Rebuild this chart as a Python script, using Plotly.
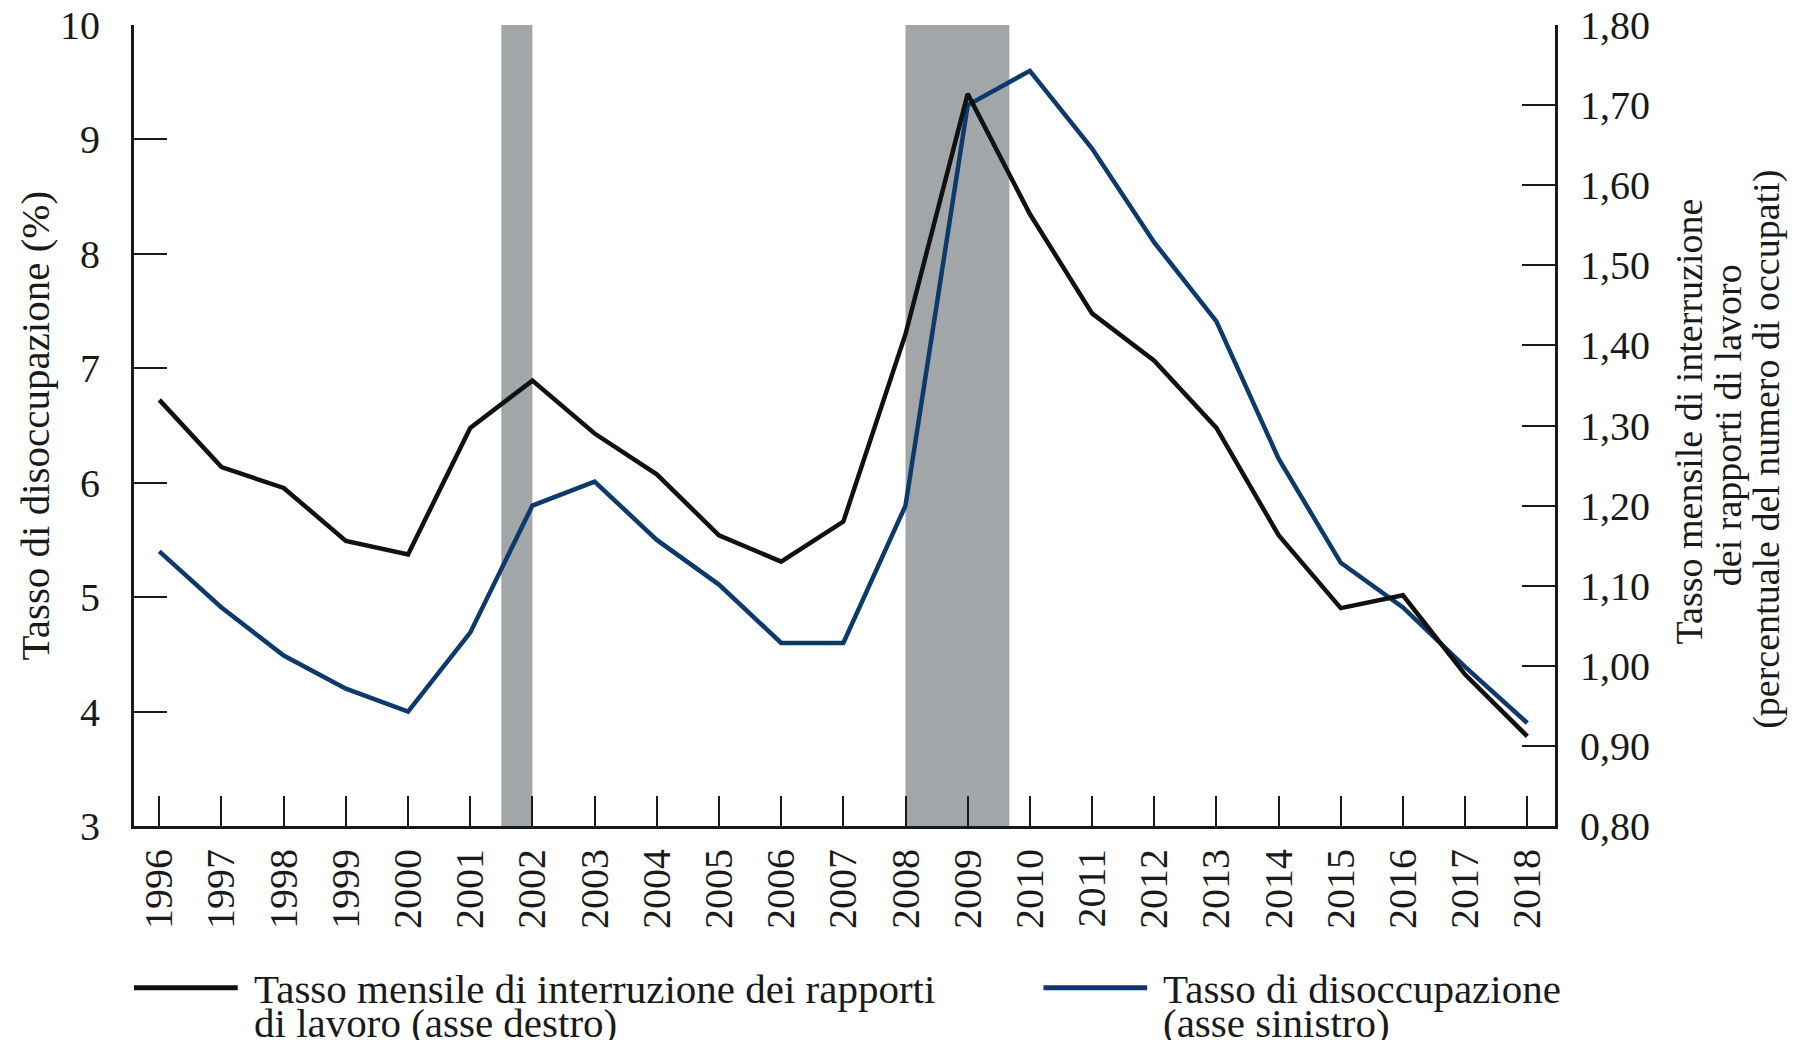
import plotly.graph_objects as go

years = list(range(1996, 2019))
unemployment = [5.40, 4.91, 4.49, 4.20, 4.00, 4.69, 5.80, 6.01, 5.50, 5.11, 4.60, 4.60,
                5.80, 9.30, 9.60, 8.92, 8.10, 7.41, 6.21, 5.30, 4.91, 4.39, 3.90]
separation_rate = [1.332, 1.248, 1.222, 1.156, 1.139, 1.297, 1.356, 1.290, 1.239, 1.163,
                   1.130, 1.180, 1.414, 1.714, 1.564, 1.440, 1.381, 1.297, 1.163, 1.072,
                   1.088, 0.989, 0.912]
recession_starts = [2001.5, 2008.0]
recession_ends = [2002.0, 2009.67]

left_ticks = [3, 4, 5, 6, 7, 8, 9, 10]
right_ticks = [0.8, 0.9, 1.0, 1.1, 1.2, 1.3, 1.4, 1.5, 1.6, 1.7, 1.8]

name_sep = "Tasso mensile di interruzione dei rapporti di lavoro (asse destro)"
name_un = "Tasso di disoccupazione (asse sinistro)"

FONT = "Liberation Serif"
TXT = "#1a1a1a"
BLACK = "#111111"
BLUE = "#0c3a6c"
GREY = "#a3a6a9"
FS_TICK = 40
FS_LEG = 41
FS_LTITLE = 41
FS_RTITLE = 38

fig = go.Figure()
fig.add_trace(go.Scatter(x=years, y=unemployment, mode="lines", name=name_un,
                         line=dict(color=BLUE, width=4.5), yaxis="y"))
fig.add_trace(go.Scatter(x=years, y=separation_rate, mode="lines", name=name_sep,
                         line=dict(color=BLACK, width=4.5), yaxis="y2"))

for s, e in zip(recession_starts, recession_ends):
    fig.add_vrect(x0=s, x1=e, fillcolor=GREY, opacity=1, line_width=0, layer="below")

# manual legend
legend_items = [
    (0.0, BLACK, ["Tasso mensile di interruzione dei rapporti", "di lavoro (asse destro)"]),
    (0.640, BLUE, ["Tasso di disoccupazione", "(asse sinistro)"]),
]
for x0, col, lines in legend_items:
    fig.add_shape(type="line", xref="paper", yref="paper", x0=x0, x1=x0 + 0.073,
                  y0=-0.202, y1=-0.202, line=dict(color=col, width=5))
    for i, t in enumerate(lines):
        fig.add_annotation(text=t, xref="paper", yref="paper", x=x0 + 0.0830,
                           y=-0.203 - 0.0425 * i, xanchor="left", yanchor="middle",
                           showarrow=False, font=dict(family=FONT, size=FS_LEG, color=TXT))

# axis titles
fig.add_annotation(text="Tasso di disoccupazione (%)", xref="paper", yref="paper",
                   x=-0.0697, y=0.5, textangle=-90, xanchor="center", yanchor="middle",
                   showarrow=False, font=dict(family=FONT, size=FS_LTITLE, color=TXT))
right_title = ["Tasso mensile di interruzione", "dei rapporti di lavoro",
               "(percentuale del numero di occupati)"]
right_title_y = [0.505, 0.50, 0.47]
for i, (t, yy) in enumerate(zip(right_title, right_title_y)):
    fig.add_annotation(text=t, xref="paper", yref="paper", x=1.0943 + 0.0272 * i, y=yy,
                       textangle=-90, xanchor="center", yanchor="middle", showarrow=False,
                       font=dict(family=FONT, size=FS_RTITLE, color=TXT))

axis_common = dict(showgrid=False, zeroline=False, showline=True, linecolor="#1a1a1a",
                   linewidth=3, ticks="inside", tickcolor="#1a1a1a", tickwidth=2,
                   automargin=False, ticklabeloverflow="allow",
                   tickfont=dict(family=FONT, size=FS_TICK, color=TXT))

fig.update_layout(
    width=1808, height=1040,
    margin=dict(l=134, r=253, t=25, b=214),
    paper_bgcolor="white", plot_bgcolor="white",
    showlegend=False,
    separators=",.",
    xaxis=dict(range=[1995.593, 2018.445], tickvals=years, ticktext=[str(y) for y in years],
               tickangle=-90, ticklen=30, ticklabelstandoff=4, **axis_common),
    yaxis=dict(range=[3, 10], tickvals=left_ticks, ticklen=33, ticklabelstandoff=23,
               **axis_common),
    yaxis2=dict(range=[0.8, 1.8], tickvals=right_ticks, tickformat=".2f", overlaying="y",
                side="right", ticklen=33, ticklabelstandoff=14, **axis_common),
)

fig.write_html("out.html", config={"displayModeBar": False},
               post_script="document.body.style.margin='0';document.body.style.overflow='hidden';")
